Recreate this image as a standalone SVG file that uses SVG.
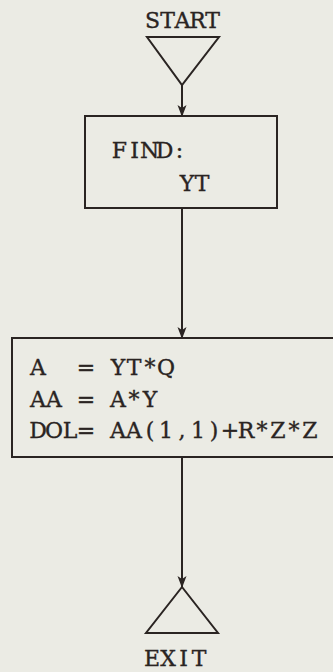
<svg xmlns="http://www.w3.org/2000/svg" width="333" height="672" viewBox="0 0 333 672">
<defs>
<style>
.bg{fill:#ebebe4}
.shape{fill:none;stroke:#2a2422;stroke-width:2}
.conn{fill:none;stroke:#2a2422;stroke-width:2}
.t{font-family:"DejaVu Serif","Liberation Serif",serif;font-size:22px;fill:#2a2422;stroke:#2a2422;stroke-width:0.35;text-anchor:middle}
</style>
<marker id="arr" viewBox="0 0 12 10" refX="11" refY="5" markerWidth="12" markerHeight="10" markerUnits="userSpaceOnUse" orient="auto">
<path d="M0,0.5 L12,5 L0,9.5 L3,5 z" fill="#2a2422"/>
</marker>
</defs>
<rect class="bg" x="0" y="0" width="333" height="672"/>
<g id="start">
<text class="t" x="152.5 167.5 182.5 197.5 212.5" y="28">START</text>
<path class="shape" d="M147,37 L219,37 L182,85 Z"/>
</g>
<g id="find">
<rect class="shape" x="85" y="116" width="192" height="92"/>
<text class="t" x="119.5 134.5 149.5 164.5 179.5" y="158">FIND:</text>
<text class="t" x="187 202" y="191">YT</text>
</g>
<g id="compute">
<path class="shape" d="M340,338 L12,338 L12,457 L340,457"/>
<text class="t" x="38 54 70 86 102 118 134 150 166" y="375" xml:space="preserve">A  = YT*Q</text>
<text class="t" x="38 54 70 86 102 118 134 150" y="407" xml:space="preserve">AA = A*Y</text>
<text class="t" x="38 54 70 86 102 118 134 150 166 182 198 214 230 246 262 278 294 310" y="438" xml:space="preserve">DOL= AA(1,1)+R*Z*Z</text>
</g>
<g id="exit">
<path class="shape" d="M182,587 L218,633 L146,633 Z"/>
<text class="t" x="152 168 183.5 199" y="666">EXIT</text>
</g>
<g id="connectors">
<line class="conn" x1="182" y1="85" x2="182" y2="116" marker-end="url(#arr)"/>
<line class="conn" x1="182" y1="208" x2="182" y2="338" marker-end="url(#arr)"/>
<line class="conn" x1="182" y1="457" x2="182" y2="587" marker-end="url(#arr)"/>
</g>
</svg>
